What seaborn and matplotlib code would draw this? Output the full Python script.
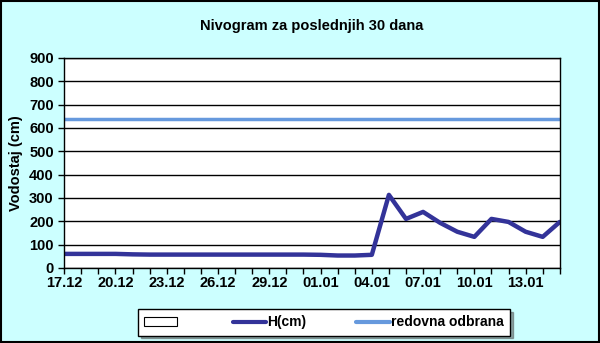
import matplotlib
matplotlib.use("Agg")
import matplotlib.pyplot as plt
from matplotlib.patches import Patch
from matplotlib.lines import Line2D
import seaborn as sns
import pandas as pd

# podaci
dani = ['17.12', '18.12', '19.12', '20.12', '21.12', '22.12', '23.12', '24.12', '25.12', '26.12',
        '27.12', '28.12', '29.12', '30.12', '31.12', '01.01', '02.01', '03.01', '04.01', '05.01',
        '06.01', '07.01', '08.01', '09.01', '10.01', '11.01', '12.01', '13.01', '14.01', '15.01']
vodostaj = [60, 60, 60, 60, 58, 57, 57, 57, 57, 57,
            57, 57, 57, 57, 57, 56, 53, 53, 56, 313,
            210, 240, 193, 155, 133, 210, 197, 155, 133, 197]
redovna_odbrana = 640

sns.set_theme(style="white")
plt.rcParams['font.family'] = ['Liberation Sans', 'DejaVu Sans']
plt.rcParams['font.weight'] = 'bold'
plt.rcParams['text.color'] = 'black'
plt.rcParams['axes.labelcolor'] = 'black'
plt.rcParams['xtick.color'] = 'black'
plt.rcParams['ytick.color'] = 'black'

df = pd.DataFrame({'dan': range(len(dani)), 'H': vodostaj})

fig = plt.figure(figsize=(6, 3.43), dpi=100, facecolor='#CCFFFF')
ax = fig.add_axes([0.107, 0.219, 0.826, 0.612])
ax.set_facecolor('white')

sns.lineplot(data=df, x='dan', y='H', ax=ax, color='#333399', linewidth=3.2)
ax.axhline(redovna_odbrana, color='#6699DD', linewidth=2.5)

ax.set_xlim(0, len(dani) - 1)
ax.set_ylim(0, 900)
ax.set_yticks(range(0, 901, 100))
ax.set_xticks(range(0, len(dani), 3))
ax.set_xticklabels(dani[::3])
ax.set_xticks(range(len(dani)), minor=True)
ax.yaxis.grid(True, color='black', linewidth=1)
ax.set_axisbelow(True)
for s in ax.spines.values():
    s.set_color('black')
    s.set_linewidth(1)
ax.tick_params(axis='both', which='both', direction='out', color='black', labelsize=10.5,
               length=4, width=1, bottom=True, left=True)
ax.tick_params(axis='x', pad=2)
for lbl in ax.get_xticklabels() + ax.get_yticklabels():
    lbl.set_fontweight('bold')

ax.set_xlabel('')
ax.set_ylabel('Vodostaj (cm)', fontsize=10.5, fontweight='bold', labelpad=4)
fig.suptitle('Nivogram za poslednjih 30 dana', fontsize=10.5, fontweight='bold', x=0.52, y=0.945)

handles = [Patch(facecolor='white', edgecolor='black', linewidth=0.8),
           Line2D([], [], color='#333399', linewidth=3),
           Line2D([], [], color='#6699DD', linewidth=3)]
leg = fig.legend(handles, [' ', 'H(cm)', 'redovna odbrana'], ncol=3, loc='center',
                 bbox_to_anchor=(0.54, 0.06), frameon=True, fancybox=False, shadow=True,
                 edgecolor='black', fontsize=10, handlelength=2.4, handletextpad=0.1,
                 columnspacing=3.6, borderpad=0.45, borderaxespad=0)
leg.get_frame().set_linewidth(1)
for t in leg.get_texts():
    t.set_fontweight('bold')

fig.patches.append(plt.Rectangle((0.001, 0.002), 0.997, 0.995, transform=fig.transFigure,
                                 fill=False, edgecolor='black', linewidth=1.5))
fig.savefig('out.png', dpi=100, facecolor=fig.get_facecolor())
